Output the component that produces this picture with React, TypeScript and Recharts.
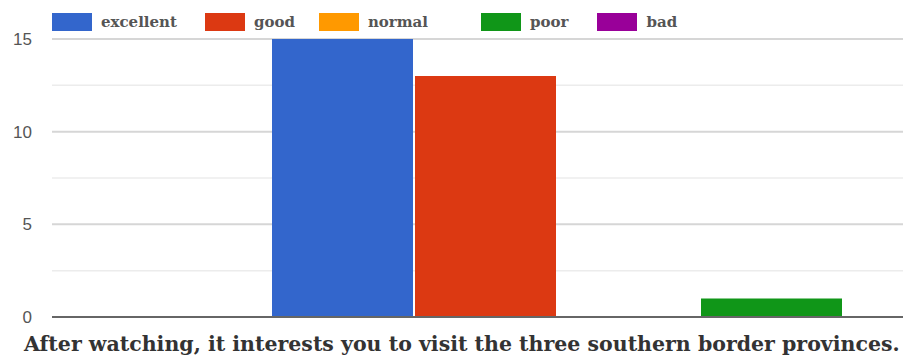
import React from 'react';
import { BarChart, Bar, XAxis, YAxis, CartesianGrid, Legend } from 'recharts';

const categories = ['After watching, it interests you to visit the three southern border provinces.'];
const seriesNames = ['excellent', 'good', 'normal', 'poor', 'bad'];
const seriesValues = [[15], [13], [0], [1], [0]];
const seriesColors = ['#3366cc', '#dc3912', '#ff9900', '#109618', '#990099'];
const yTicks = [0, 2.5, 5, 7.5, 10, 12.5, 15];

const data = categories.map((name, i) => {
  const row: Record<string, string | number> = { name };
  seriesNames.forEach((s, j) => {
    row[s] = seriesValues[j][i];
  });
  return row;
});

const serif = '"DejaVu Serif", serif';
// spacing after each legend entry, as in the original
const legendGaps = [28, 24, 53, 29, 0];

const LegendContent = () => (
  <div style={{ height: 39, display: 'flex', alignItems: 'center', paddingLeft: 52, paddingTop: 5, boxSizing: 'border-box' }}>
    {seriesNames.map((s, i) => (
      <div key={s} style={{ display: 'flex', alignItems: 'center', marginRight: legendGaps[i] }}>
        <div style={{ width: 40, height: 18, background: seriesColors[i], marginRight: 9 }} />
        <span style={{ fontFamily: serif, fontSize: 15, fontWeight: 'bold', color: '#555' }}>{s}</span>
      </div>
    ))}
  </div>
);

const CategoryTick = ({ y, payload }: any) => (
  <text x={24} y={y} dy={26} textAnchor="start" fontFamily={serif} fontSize={20.5} fontWeight="bold" fill="#333">
    {payload.value}
  </text>
);

const GridLine = (props: any) => {
  const major = props.index % 2 === 0;
  return (
    <line
      x1={props.x1}
      x2={props.x2}
      y1={props.y1}
      y2={props.y2}
      stroke={major ? '#d6d6d6' : '#ececec'}
      strokeWidth={major ? 2 : 1.5}
    />
  );
};

export default function App() {
  return (
    <div style={{ position: 'absolute', left: 0, top: 0, width: 903, height: 356, overflow: 'hidden', background: '#fff' }}>
      <BarChart
        width={1204}
        height={356}
        data={data}
        margin={{ top: 0, right: 0, bottom: 0, left: 0 }}
        barSize={141}
        barGap={2}
      >
        <Legend verticalAlign="top" align="left" content={<LegendContent />} />
        <CartesianGrid vertical={false} horizontal={GridLine} />
        <YAxis
          width={52}
          domain={[0, 15]}
          ticks={yTicks}
          interval={0}
          axisLine={false}
          tickLine={false}
          tickSize={0}
          tickMargin={20}
          tick={{ fill: '#555', fontSize: 17, fontFamily: 'Arial, "Liberation Sans", sans-serif' }}
          tickFormatter={(v: number) => (v % 5 === 0 ? String(v) : '')}
        />
        <XAxis
          dataKey="name"
          height={39}
          axisLine={{ stroke: '#666', strokeWidth: 2 }}
          tickLine={false}
          tick={<CategoryTick />}
        />
        {seriesNames.map((s, i) => (
          <Bar key={s} dataKey={s} fill={seriesColors[i]} isAnimationActive={false} />
        ))}
      </BarChart>
    </div>
  );
}
